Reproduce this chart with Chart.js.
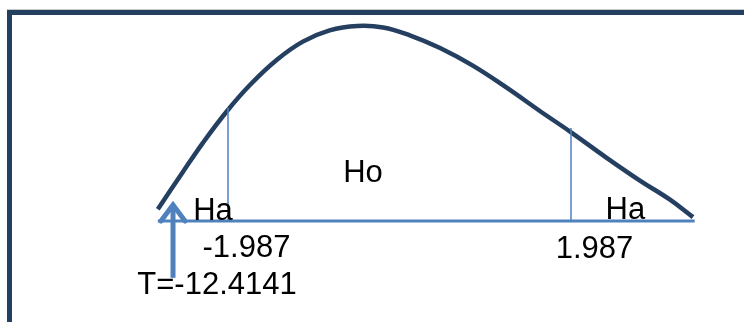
<!DOCTYPE html>
<html>
<head>
<meta charset="utf-8">
<script src="https://cdn.jsdelivr.net/npm/chart.js@4.4.1/dist/chart.umd.min.js"></script>
<style>
  html,body{margin:0;padding:0;background:#fff;overflow:hidden;}
  #wrap{position:relative;width:744px;height:322px;}
  #frame{position:absolute;left:7px;top:10px;width:800px;height:400px;border:5px solid #243F60;box-shadow:0 -1px 0 #c8c8c8;}
  canvas{position:absolute;left:0;top:0;}
</style>
</head>
<body>
<div id="wrap">
  <div id="frame"></div>
  <canvas id="c" width="744" height="322"></canvas>
</div>
<script>
// t-distribution sketch (hand drawn shape)
const curveT = [-2.80, -2.51, -2.28, -2.00, -1.73, -1.42, -1.12, -0.81, -0.49, -0.19, 0.12, 0.47, 0.85, 1.25, 1.63, 1.98, 2.40, 2.79, 3.13, 3.40];
const curveD = [0.024, 0.100, 0.159, 0.224, 0.278, 0.329, 0.366, 0.389, 0.398, 0.395, 0.379, 0.353, 0.317, 0.271, 0.224, 0.182, 0.129, 0.082, 0.044, 0.008];

// baseline
const axisT = [-2.80, 3.42];
const axisD = [0, 0];

// critical values and where their lines meet the curve
const critT = [-1.987, 1.987];
const critTop = [0.231, 0.190];

// test statistic arrow (placed symbolically in the left tail)
const arrowT = -2.624;
const arrowBottom = -0.116;
const arrowTip = 0.033;
const arrowHalfW = 0.139;

// text labels
const labelTexts = ['Ha', 'Ho', 'Ha', '-1.987', '1.987', 'T=-12.4141'];
const labelT = [-2.390, -0.423, 2.388, -1.773, 2.260, -2.114];
const labelD = [0.002, 0.080, 0.004, -0.073, -0.075, -0.149];
const labelAlign = ['left', 'center', 'left', 'center', 'center', 'center'];

const navy = '#243F60';
const blue = '#4F81BD';

const pts = (xs, ys) => xs.map((x, i) => ({x, y: ys[i]}));

const datasets = [
  {data: pts(axisT, axisD), borderColor: blue, borderWidth: 3},
  {data: pts([critT[0], critT[0]], [0, critTop[0]]), borderColor: blue, borderWidth: 1.5},
  {data: pts([critT[1], critT[1]], [0, critTop[1]]), borderColor: blue, borderWidth: 1.5},
  {data: pts(curveT, curveD), borderColor: navy, borderWidth: 4.5, tension: 0.4},
  {data: pts([arrowT, arrowT], [arrowBottom, arrowTip]), borderColor: blue, borderWidth: 5},
  {data: pts([arrowT - arrowHalfW, arrowT, arrowT + arrowHalfW], [0, arrowTip, 0]), borderColor: blue, borderWidth: 5, borderCapStyle: 'round', borderJoinStyle: 'miter'}
].map(d => Object.assign({showLine: true, pointRadius: 0, fill: false, clip: false}, d));

const labelPlugin = {
  id: 'labels',
  afterDatasetsDraw(chart){
    const {ctx, scales:{x, y}} = chart;
    ctx.save();
    ctx.fillStyle = '#000';
    ctx.font = '31px "Liberation Sans", Arial, sans-serif';
    ctx.textBaseline = 'alphabetic';
    labelTexts.forEach((t, i) => {
      ctx.textAlign = labelAlign[i];
      ctx.fillText(t, x.getPixelForValue(labelT[i]), y.getPixelForValue(labelD[i]));
    });
    ctx.restore();
  }
};

new Chart(document.getElementById('c'), {
  type: 'scatter',
  data: {datasets},
  options: {
    responsive: false,
    animation: false,
    events: [],
    layout: {padding: 0},
    plugins: {legend: {display: false}, tooltip: {enabled: false}},
    scales: {
      x: {type: 'linear', display: false, min: -4.6286, max: 3.9915},
      y: {type: 'linear', display: false, min: -0.2061, max: 0.4510}
    }
  },
  plugins: [labelPlugin]
});
</script>
</body>
</html>
